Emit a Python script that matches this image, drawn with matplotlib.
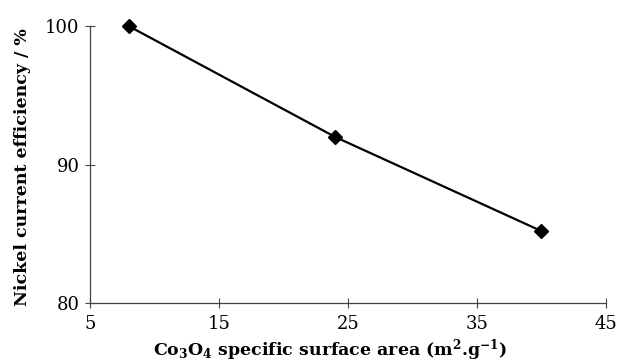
import numpy as np
import matplotlib
matplotlib.use("Agg")
import matplotlib.pyplot as plt

plt.rcParams['font.family'] = ['DejaVu Serif']
plt.rcParams['mathtext.fontset'] = 'custom'
plt.rcParams['mathtext.rm'] = 'DejaVu Serif:bold'
plt.rcParams['mathtext.bf'] = 'DejaVu Serif:bold'
plt.rcParams['mathtext.default'] = 'bf'

# specific surface area of Co3O4 (m2/g) vs nickel current efficiency (%)
area = [8, 24, 40]
efficiency = [100, 92, 85.2]
xticks = [5, 15, 25, 35, 45]
yticks = [80, 90, 100]

fig = plt.figure(figsize=(6.17, 3.63), dpi=100)
ax = fig.add_axes([0.146, 0.165, 0.836, 0.763])

ax.plot(area, efficiency, color='black', lw=1.6, marker='D', ms=7,
        mfc='black', mec='black', clip_on=False)

ax.set_xlim(5, 45)
ax.set_ylim(80, 100)
ax.set_xticks(xticks)
ax.set_yticks(yticks)
ax.tick_params(direction='inout', length=7, width=0.8, labelsize=13,
               color='#444444')
ax.tick_params(axis='x', pad=5)
ax.tick_params(axis='y', pad=4)

for s in ['top', 'right']:
    ax.spines[s].set_visible(False)
for s in ['left', 'bottom']:
    ax.spines[s].set_linewidth(0.9)
    ax.spines[s].set_color('#444444')

ax.set_xlabel('Co$_3$O$_4$ specific surface area (m$^2$.g$^{-1}$)',
              fontsize=12.5, fontweight='bold')
ax.xaxis.set_label_coords(0.465, -0.122)
ax.set_ylabel('Nickel current efficiency / %', fontsize=12.5,
              fontweight='bold')
ax.yaxis.set_label_coords(-0.114, 0.49)

fig.savefig('out.png', dpi=100)
